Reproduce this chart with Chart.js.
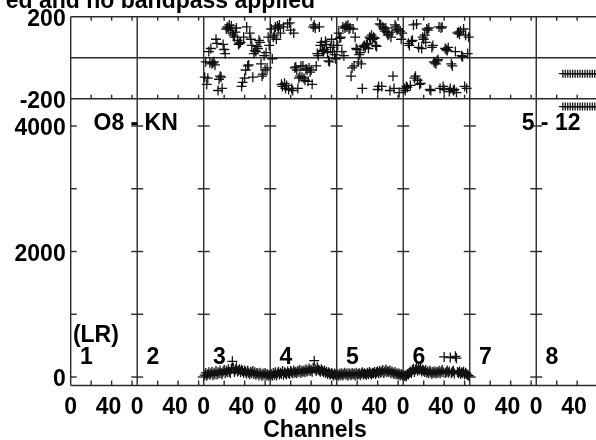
<!DOCTYPE html>
<html><head><meta charset="utf-8">
<script src="https://cdn.jsdelivr.net/npm/chart.js@4.4.1/dist/chart.umd.min.js"></script>
<style>html,body{margin:0;padding:0;background:#fff;overflow:hidden}</style>
</head><body>
<canvas id="c" width="596" height="440"></canvas>
<script>
// ---------- data ----------
const PANEL_LABELS = ['1','2','3','4','5','6','7','8'];
const X_TICK_VALUES = [0, 40];
const X_TICK_LABELS = ['0', '40 '];
const CH_TICKS = [20, 40, 60];
const PHASE_TICKS = [200, -200];
const AMP_TICKS = [0, 2000, 4000];
const AMP_MINOR_TICKS = [0, 1000, 2000, 3000, 4000];
const TITLE = 'ed and no bandpass applied';
const X_TITLE = 'Channels';
const BASELINE_LEFT = 'O8 - KN';
const BASELINE_RIGHT = '5 - 12';
const POL_LABEL = '(LR)';

const phase3 = [-95,-20,-130,-100,30,-25,45,-30, -25,-20,-35,90,70,-160,-105,-90, -95,-150,65,40,20,140,150,145, 160,135,155,120,110,100,125,145, 85,65,70,75,-140,-120,100,-100, -60,150,-40,-35,120,90,60,-95, 20,35,30,55,45,85,75,-30, -90,-80,10,-60,25,-50,100,60];
const phase4 = [140,-5,100,110,150,90,155,145, 160,120,-130,-140,150,-125,-150,-135, 165,-155,170,135,-150,-160,120,-50, -45,-60,-150,-100,-90,-40,-95,-40, -100,-110,-55,-60,-115,-50,-70,-60, -130,150,160,145,-40,20,10,150, 60,75,35,30,40,80,65,25, -15,-20,50,90,30,60,15,-5];
const phase5 = [60,120,95,100,30,150,10,145, 155,150,160,140,145,-90,-50,140, -40,100,45,40,-20,15,25,-30, -150,55,60,50,65,70,45,100, 95,110,90,100,95,60,55,-155, -140,165,160,-140,150,140,130,145, 125,110,115,-160,100,125,-90,-150, 160,150,135,140,-170,130,90,120];
const phase6 = [-150,-160,-140,-145,70,60,-135,80, 85,160,-100,-90,165,-110,50,-130, -125,45,100,90,110,75,140,135, 145,-155,-160,50,60,-20,-25,-30, -15,-10,150,-150,145,150,-140,-155, 45,40,35,50,-165,-150,-30,-40, -160,-155,30,-170,120,125,115,130, 10,5,140,-140,110,-150,20,100];

const amp3 = [30,65,20,50,75,35,55,85, 30,70,45,95,40,75,55,105, 65,45,90,115,60,100,75,125, 85,65,130,250,145,80,115,155, 90,105,125,75,115,95,65,105, 85,55,100,70,45,85,60,95, 50,75,35,65,55,25,70,45, 20,55,35,65,25,50,20,35];
const amp4 = [45,20,65,35,75,25,55,85, 40,70,50,95,35,75,60,45, 90,65,50,95,75,55,105,70, 85,60,100,80,115,65,95,85, 105,75,125,90,105,135,95,115, 85,145,260,125,95,155,115,105, 85,125,95,75,105,65,85,50, 75,55,40,65,45,25,55,35];
const amp5 = [40,20,55,30,60,25,50,70, 35,55,20,60,45,30,65,40, 55,25,70,35,50,60,30,55, 75,40,60,50,35,70,45,80, 55,40,70,60,85,50,75,90, 60,100,70,85,110,65,90,120, 75,95,80,105,60,90,70,50, 80,45,60,35,55,25,50,30];
const amp6 = [15,30,10,50,40,70,90,60, 110,130,80,120,150,100,130,110, 140,90,120,100,80,110,70,90, 60,100,75,50,85,65,90,55, 80,70,100,60,85,110,75,320, 65,80,105,70,90,310,60,85, 100,55,330,300,80,65,90,50, 75,60,90,40,70,50,30,20];
const ampFloor = [70, 70];

const panel8Channels = [26,28.4,30.8,33.2,35.6,38,40.4,42.8,45.2,47.6,50,52.4,54.8,57.2,59.6,62];
const phase8 = [-78,-78,-78,-78,-78,-78,-78,-78,-78,-78,-78,-78,-78,-78,-78,-78];
const amp8 = [4310,4310,4310,4310,4310,4310,4310,4310,4310,4310,4310,4310,4310,4310,4310,4310];

// ---------- layout constants ----------
const W = 65;               // channel units per panel
const X_MAX = 513.4;        // visible part of the 8th panel
const FONT = '"Liberation Sans", Arial, Helvetica, sans-serif';
const F23 = {family: FONT, size: 23, weight: 'bold'};

function panelPoints(panel, vals) {
  return vals.map((v, i) => ({x: (panel - 1) * W + i + 1, y: v}));
}
function p8(vals) {
  return vals.map((v, i) => ({x: 7 * W + panel8Channels[i], y: v}));
}

const crossStyle = {pointStyle: 'cross', pointRadius: 5, pointBorderWidth: 1.3, borderColor: '#111', backgroundColor: '#111', showLine: false};

const datasets = [
  {...crossStyle, yAxisID: 'yP', data: panelPoints(3, phase3)},
  {...crossStyle, yAxisID: 'yP', data: panelPoints(4, phase4)},
  {...crossStyle, yAxisID: 'yP', data: panelPoints(5, phase5)},
  {...crossStyle, yAxisID: 'yP', data: panelPoints(6, phase6)},
  {...crossStyle, pointRadius: 4, yAxisID: 'yP', data: p8(phase8)},
  {...crossStyle, yAxisID: 'yA', data: panelPoints(3, amp3)},
  {...crossStyle, yAxisID: 'yA', data: panelPoints(4, amp4)},
  {...crossStyle, yAxisID: 'yA', data: panelPoints(5, amp5)},
  {...crossStyle, yAxisID: 'yA', data: panelPoints(6, amp6)},
  {...crossStyle, pointRadius: 4, yAxisID: 'yA', data: p8(amp8)},
  {type: 'line', yAxisID: 'yA', showLine: true, pointRadius: 0, borderColor: '#222', borderWidth: 1.2,
   data: [{x: 2 * W + 1, y: ampFloor[0]}, {x: 5 * W + 64, y: ampFloor[1]}]}
];

const framePlugin = {
  id: 'frame',
  beforeDatasetsDraw(chart) {
    const ctx = chart.ctx, xs = chart.scales.x, yp = chart.scales.yP, ya = chart.scales.yA;
    const top = yp.getPixelForValue(200), mid = yp.getPixelForValue(0), sep = yp.getPixelForValue(-200), bot = ya.bottom;
    const L = xs.left, R = xs.right;
    ctx.save();
    ctx.strokeStyle = '#2a2a2a'; ctx.lineWidth = 1.4;
    const ln = (x1, y1, x2, y2) => { ctx.beginPath(); ctx.moveTo(x1, y1); ctx.lineTo(x2, y2); ctx.stroke(); };
    ln(L, top, R, top); ln(L, mid, R, mid); ln(L, sep, R, sep); ln(L, bot, R, bot);
    PANEL_LABELS.forEach((_, i) => {
      const px = xs.getPixelForValue(i * W);
      ln(px, top, px, bot);
      CH_TICKS.forEach(c => {
        const tx = xs.getPixelForValue(i * W + c);
        if (tx > R) return;
        ln(tx, top, tx, top + 4); ln(tx, sep, tx, sep - 4); ln(tx, bot, tx, bot - 5);
      });
      AMP_MINOR_TICKS.forEach(v => {
        const ty = ya.getPixelForValue(v);
        ln(i === 0 ? px : px - 6, ty, px + 6, ty);
      });
    });
    ctx.restore();
  },
  afterDraw(chart) {
    const ctx = chart.ctx, xs = chart.scales.x, ya = chart.scales.yA;
    ctx.save();
    ctx.fillStyle = '#000';
    ctx.font = 'bold 23px ' + FONT;
    ctx.textBaseline = 'alphabetic';
    ctx.textAlign = 'right';
    ctx.fillText(TITLE, 315, 7.5);
    ctx.textAlign = 'center';
    ctx.fillText(X_TITLE, 315, 436.5);
    ctx.fillText(BASELINE_LEFT, xs.getPixelForValue(63.5), ya.getPixelForValue(3936));
    ctx.fillText(BASELINE_RIGHT, xs.getPixelForValue(469.5), ya.getPixelForValue(3936));
    ctx.fillText(POL_LABEL, xs.getPixelForValue(24.6), ya.getPixelForValue(563));
    PANEL_LABELS.forEach((lab, i) => {
      ctx.fillText(lab, xs.getPixelForValue(i * W + 15.4), ya.getPixelForValue(207));
    });
    ctx.restore();
  }
};

new Chart(document.getElementById('c'), {
  type: 'scatter',
  data: {datasets},
  plugins: [framePlugin],
  options: {
    responsive: false,
    animation: false,
    events: [],
    layout: {autoPadding: false, padding: {top: 16.7, left: 0, right: 0, bottom: 0}},
    plugins: {legend: {display: false}, tooltip: {enabled: false}},
    scales: {
      x: {
        type: 'linear', min: 0, max: X_MAX,
        afterBuildTicks: s => {
          s.ticks = [];
          PANEL_LABELS.forEach((_, i) => X_TICK_VALUES.forEach(v => s.ticks.push({value: i * W + v})));
        },
        afterFit: s => { s.height = 54.5; s.paddingLeft = 0; s.paddingRight = 0; },
        ticks: {
          autoSkip: false, maxRotation: 0, minRotation: 0, padding: 8, color: '#000', font: F23,
          callback: v => X_TICK_LABELS[X_TICK_VALUES.indexOf(Math.round(v - Math.floor((v + 0.01) / W) * W))]
        },
        grid: {display: false, drawTicks: false},
        border: {display: false}
      },
      yA: {
        type: 'linear', position: 'left', stack: 'rows', stackWeight: 286.8,
        min: -135, max: 4435,
        afterBuildTicks: s => { s.ticks = AMP_TICKS.map(v => ({value: v})); },
        afterFit: s => { s.width = 70.7; s.paddingTop = 0; s.paddingBottom = 0; },
        ticks: {padding: 5, labelOffset: 3, color: '#000', font: F23, callback: v => String(v)},
        grid: {display: false, drawTicks: false},
        border: {display: false}
      },
      yP: {
        type: 'linear', position: 'left', stack: 'rows', stackWeight: 82,
        min: -200, max: 200,
        afterBuildTicks: s => { s.ticks = PHASE_TICKS.map(v => ({value: v})); },
        afterFit: s => { s.width = 70.7; s.paddingTop = 0; s.paddingBottom = 0; },
        ticks: {padding: 5, labelOffset: 2.5, color: '#000', font: F23, callback: v => String(v)},
        grid: {display: false, drawTicks: false},
        border: {display: false}
      }
    }
  }
});
</script>
</body></html>
